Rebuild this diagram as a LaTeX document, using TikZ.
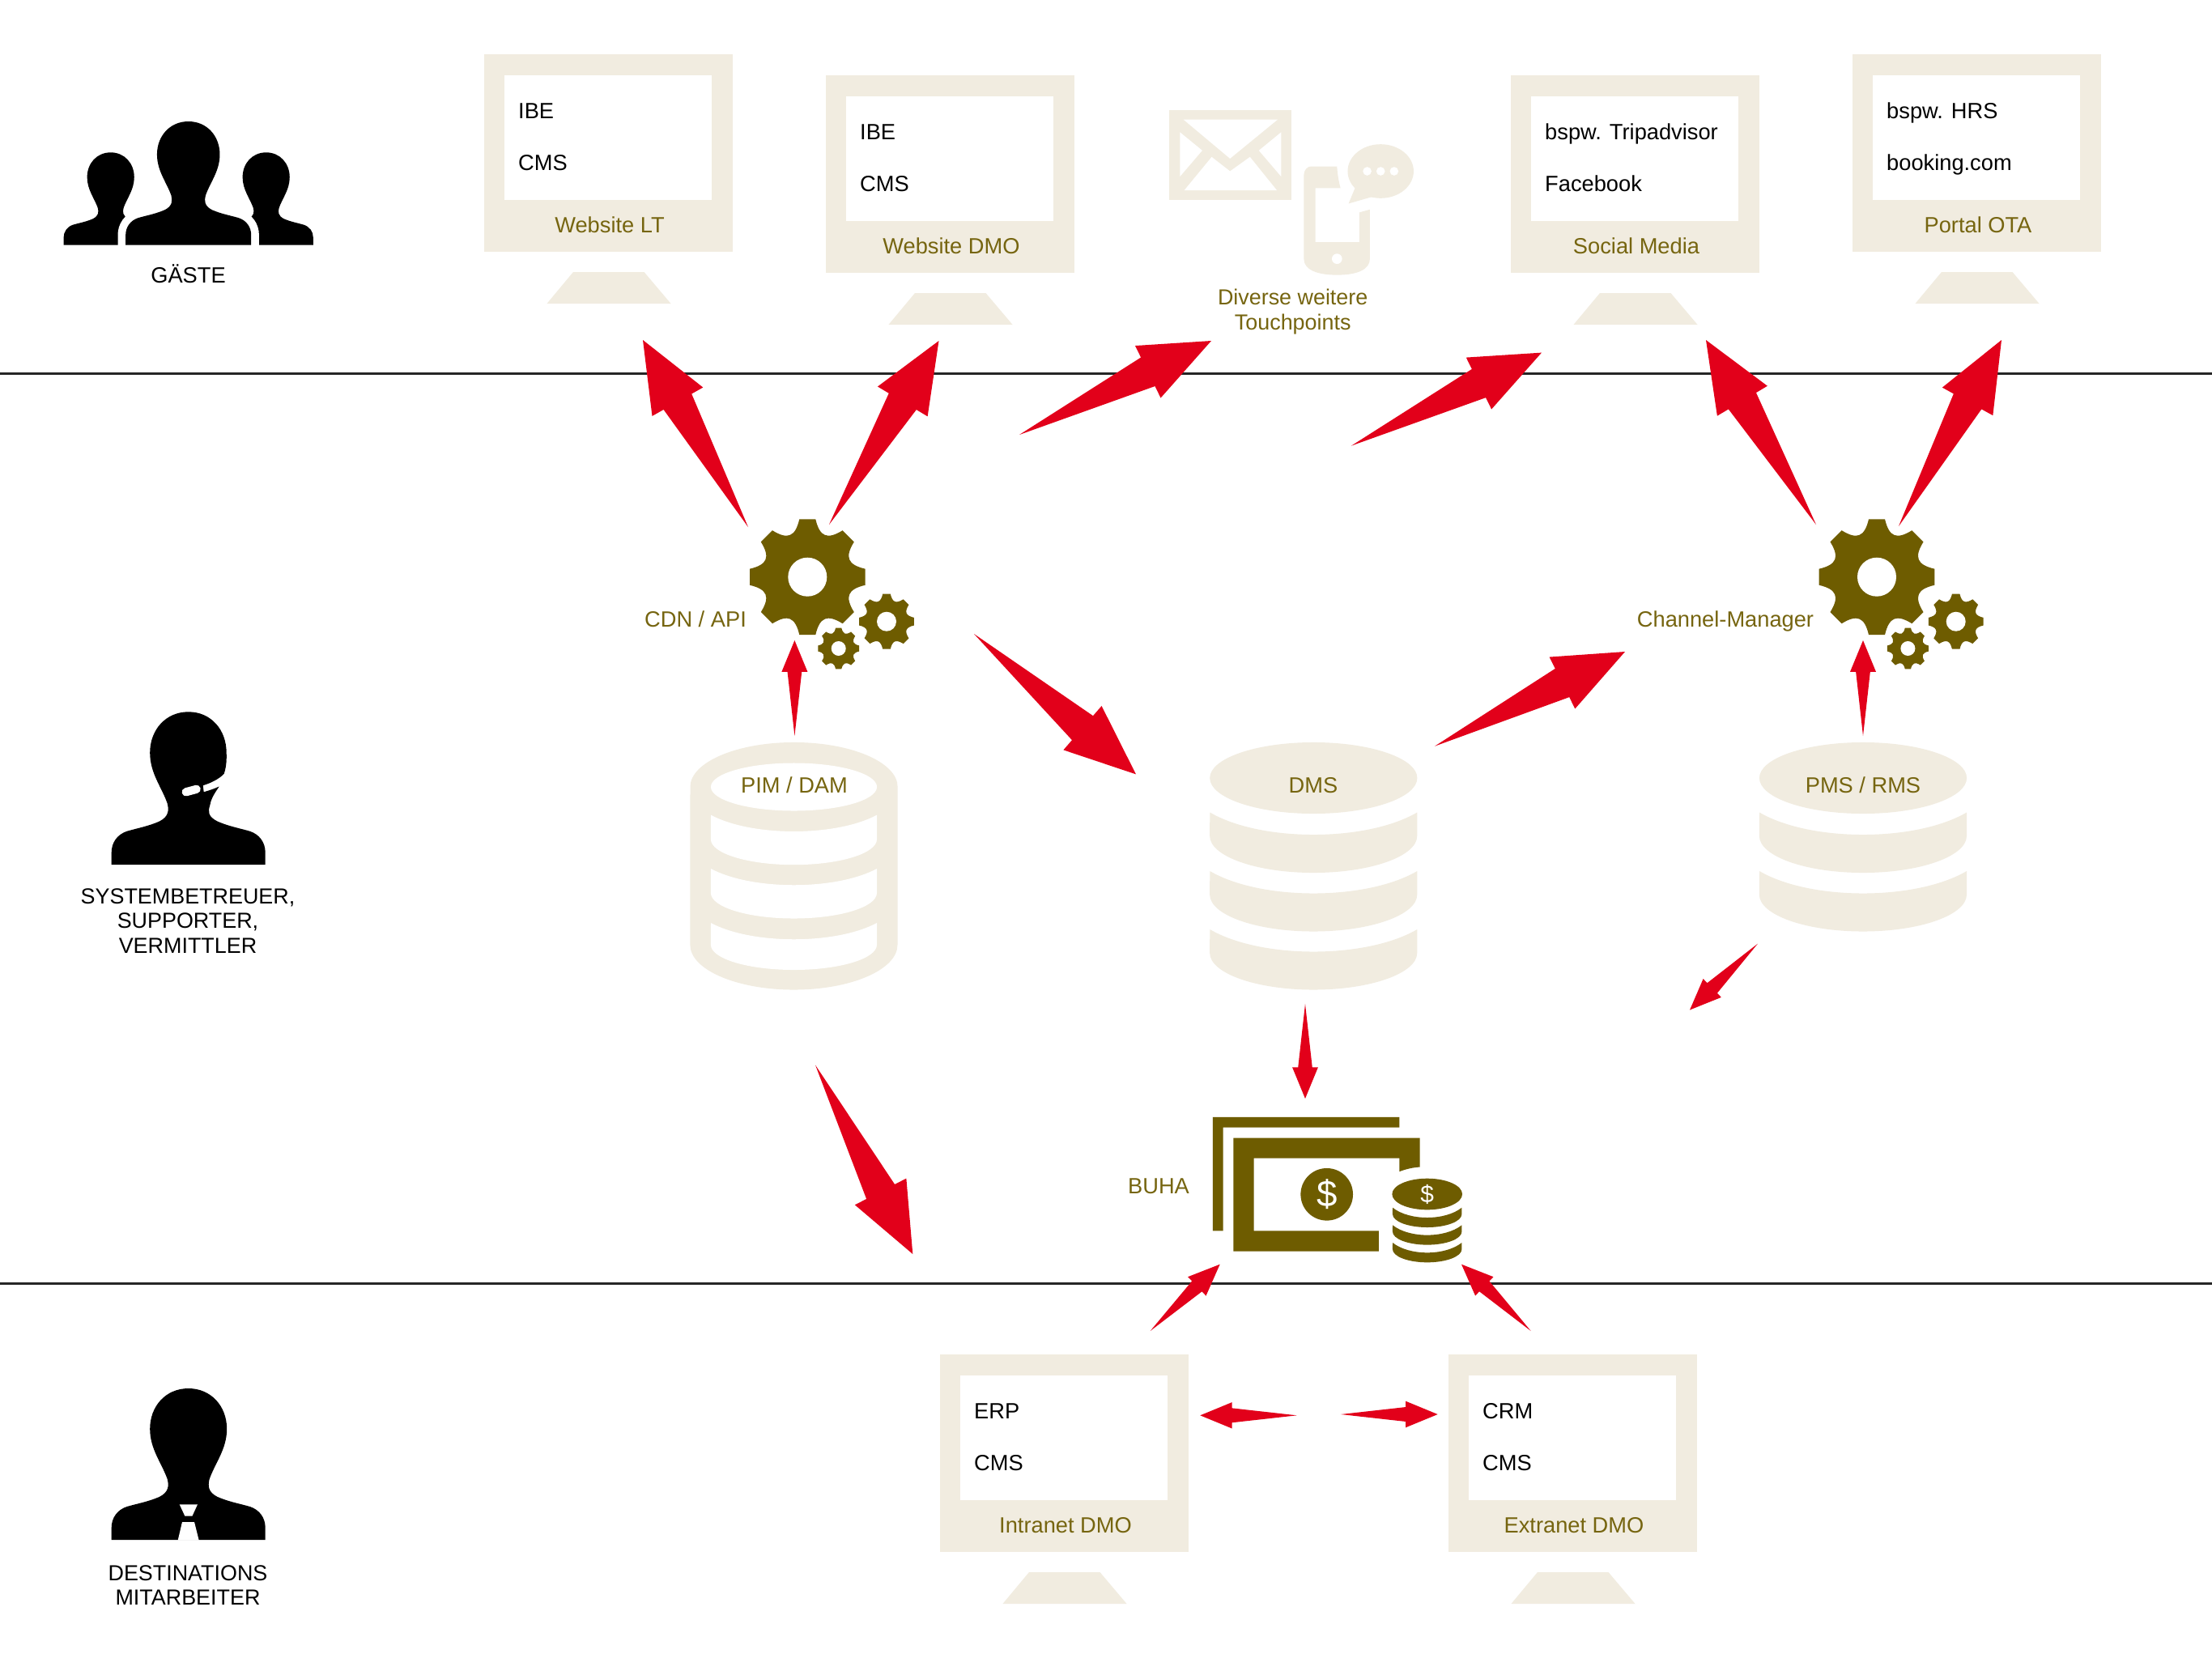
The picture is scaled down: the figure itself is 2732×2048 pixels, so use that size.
\documentclass[tikz,border=0pt]{standalone}
\usepackage{fontspec}
\setmainfont{Liberation Sans}
\usetikzlibrary{calc}
\definecolor{beigefill}{HTML}{F1ECE0}
\definecolor{olivefill}{HTML}{6E5C00}
\definecolor{olivetext}{HTML}{766510}
\definecolor{dartred}{HTML}{E2001A}
\tikzset{
  txt/.style={inner sep=0pt,anchor=base,font=\fontsize{7.75pt}{8.6pt}\selectfont,text=black},
  lefttxt/.style={txt,anchor=base west},
  oliv/.style={txt,text=olivetext},
  multi/.style={inner sep=0pt,align=center,font=\fontsize{7.65pt}{8.75pt}\selectfont},
  sep/.style={draw=black!85,line width=.85pt},
  dartfill/.style={fill=dartred},
  beig/.style={fill=beigefill},
  oli/.style={fill=olivefill}
}
% monitor: name, left, top, line1, line2, label
\newcommand{\monitor}[6]{%
  \begin{scope}[shift={(#2,-#3)}]
    \fill[beig] (0,0) rectangle (307,-244);
    \fill[white] (25,-26) rectangle (281,-180);
    \fill[beig] (110,-269) -- (197.5,-269) -- (230.5,-308) -- (77.5,-308) -- cycle;
    \node[lefttxt] (#1-a) at (41.5,-79) {#4};
    \node[lefttxt] (#1-b) at (41.5,-143) {#5};
    \node[oliv] (#1-label) at (155,-220) {#6};
  \end{scope}}
% tapered block arrow from tail to tip
\newcommand{\dart}[2]{%
  \coordinate (H) at ($(#1)!.67!(#2)$);
  \fill[dartfill] (#1) -- ($(H)!.227!90:(#2)$) -- ($(H)!.412!90:(#2)$) -- (#2)
     -- ($(H)!.412!-90:(#2)$) -- ($(H)!.227!-90:(#2)$) -- cycle;}
\newcommand{\gear}[4]{%
  \pgfmathsetmacro{\R}{#3}
  \fill[oli,shift={(#1,#2)}] (-8:\R)
    \foreach \a in {0,45,...,315}{ -- (\a-8:\R) -- (\a+8:\R)
      .. controls (\a+17:.72*\R) and (\a+28:.72*\R) .. (\a+37:\R)} -- cycle;
  \fill[white] (#1,#2) circle[radius=#4];}
\newcommand{\gears}[2]{%
  \gear{#1}{#2}{72}{24}
  \gear{#1+97.7}{#2-55}{34.3}{12}
  \gear{#1+38.4}{#2-88.3}{25.7}{9}}
\newcommand{\dbslice}[2]{%
  \fill[beig,shift={(#1,-#2)}] (-128,0) .. controls (-65,-36.7) and (65,-36.7) .. (128,0)
    -- (128,-29) arc[start angle=0,end angle=-180,x radius=1.28cm,y radius=.455cm] -- cycle;}
\newcommand{\dbtop}[1]{\fill[beig] (#1,-961) ellipse[x radius=1.28cm,y radius=.44cm];}
\newcommand{\coinslice}[1]{%
  \fill[oli,shift={(1762.7,-#1)}] (-42.7,0) .. controls (-22,-16.4) and (22,-16.4) .. (42.7,0)
    -- (42.7,-8) arc[start angle=0,end angle=-180,x radius=.427cm,y radius=.163cm] -- cycle;}
\newcommand{\hole}[3]{%
  \fill[white,shift={(980.5,-#1)}] (-102.5,0) .. controls (-52,-27) and (52,-27) .. (102.5,0)
    -- (102.5,-#2) arc[start angle=0,end angle=-180,x radius=1.025cm,y radius=#3cm] -- cycle;}
\newcommand{\personright}{(0,0) .. controls (28,0) and (47.5,-22) .. (47.5,-50)
   .. controls (47.5,-75) and (33,-92) .. (26,-112)
   .. controls (24,-120) and (24,-128) .. (36,-134)
   .. controls (50,-140) and (62,-142) .. (76,-146)
   .. controls (88,-150) and (95,-160) .. (95,-172) -- (95,-187)}
\newcommand{\personleft}{-- (-95,-187) -- (-95,-172)
   .. controls (-95,-160) and (-88,-150) .. (-76,-146)
   .. controls (-62,-142) and (-50,-140) .. (-36,-134)
   .. controls (-24,-128) and (-24,-120) .. (-26,-112)
   .. controls (-33,-92) and (-47.5,-75) .. (-47.5,-50)
   .. controls (-47.5,-22) and (-28,0) .. (0,0) -- cycle}
\begin{document}
\begin{tikzpicture}[x=.01cm,y=.01cm]
\useasboundingbox (0,0) rectangle (2732,-2048);
\fill[white] (0,0) rectangle (2732,-2048);

% separators
\coordinate (s1l) at (0,-461.5);  \coordinate (s1r) at (2732,-461.5);
\coordinate (s2l) at (0,-1585);   \coordinate (s2r) at (2732,-1585);
\draw[sep] (s1l) -- (s1r);
\draw[sep] (s2l) -- (s2r);

% people
\fill[black,shift={(136.7,-188.3)},scale=.612] \personright \personleft;
\fill[black,shift={(328.7,-188.3)},scale=.612] \personright \personleft;
\filldraw[black,draw=white,line width=5.5pt,shift={(232.7,-150)},scale=.816] \personright \personleft;
\fill[black,shift={(232.7,-150)},scale=.816] \personright \personleft;
\node[txt] (gaeste) at (232.5,-349.5) {GÄSTE};

% headset person
\fill[black,shift={(232.7,-879.3)},yscale=1.01] (0,0) .. controls (28,0) and (47,-22) .. (47,-50)
   .. controls (47.5,-62) and (46,-70) .. (44,-75.7)
   .. controls (38,-82) and (28,-87) .. (18,-90) -- (19,-98)
   .. controls (26,-96) and (32,-94) .. (38,-91.3)
   .. controls (32,-100) and (28,-106) .. (26.7,-114)
   .. controls (24,-122) and (24,-128) .. (36,-134)
   .. controls (50,-140) and (62,-142) .. (76,-146)
   .. controls (88,-150) and (95,-160) .. (95,-172) -- (95,-187) \personleft;
\draw[white,line width=2.9pt,line cap=round,shift={(232.7,-879.3)}] (-3,-99) -- (10,-95.5);
\node[multi] (support) at (232,-1137.5) {SYSTEMBETREUER,\\SUPPORTER,\\VERMITTLER};

% tie person
\fill[black,shift={(232.7,-1715)}] \personright \personleft;
\fill[white,shift={(232.7,-1715)}] (-11,-143.3) -- (11.3,-143.3) -- (4.7,-157.7) -- (-4.3,-157.7) -- cycle
   (-7.7,-165) -- (7.3,-165) -- (13,-187.6) -- (-13,-187.6) -- cycle;
\node[multi] (staff) at (232,-1958) {DESTINATIONS\\MITARBEITER};

% monitors
\monitor{lt}{598}{67}{IBE}{CMS}{Website LT}
\monitor{dmo}{1020}{93}{IBE}{CMS}{Website DMO}
\monitor{social}{1866}{93}{bspw. Tripadvisor}{Facebook}{Social Media}
\monitor{ota}{2288}{67}{bspw. HRS}{booking.com}{Portal OTA}
\monitor{intra}{1161}{1673}{ERP}{CMS}{Intranet DMO}
\monitor{extra}{1789}{1673}{CRM}{CMS}{Extranet DMO}

% touchpoints icon
\begin{scope}[shift={(1420,-110)},x=.003333cm,y=-.003333cm]
  \fill[beig] (73,78) rectangle (526,412);
  \fill[white] (125,113) -- (475,113) -- (298,258) -- cycle;
  \fill[white] (112,160) -- (195,228) -- (112,325) -- cycle;
  \fill[white] (488,160) -- (405,228) -- (488,325) -- cycle;
  \fill[white] (128,376) -- (230,252) -- (298,305) -- (372,252) -- (472,376) -- cycle;
  \fill[beig] (572,320) .. controls (572,300) and (585,287) .. (600,287) -- (695,287)
     .. controls (697,320) and (702,345) .. (708,368) -- (615,368) -- (615,568) -- (778,568)
     -- (778,458) -- (817,447) -- (817,630) .. controls (817,670) and (770,690) .. (695,690)
     .. controls (620,690) and (572,670) .. (572,630) -- cycle;
  \fill[white] (695,630) circle[radius=.0633cm];
  \fill[beig] (857,305) ellipse[x radius=.407cm,y radius=.333cm];
  \fill[beig] (765,360) -- (738,425) -- (825,400) -- cycle;
  \fill[white] (807,305) circle[radius=.053cm];
  \fill[white] (857,305) circle[radius=.053cm];
  \fill[white] (907,305) circle[radius=.053cm];
\end{scope}
\node[multi,text=olivetext] (touch) at (1596.7,-385) {Diverse weitere\\Touchpoints};

% gears
\gears{997.3}{-712.7}
\gears{2318}{-712.7}
\node[oliv] (cdn) at (859,-774) {CDN / API};
\node[oliv] (chan) at (2131,-774) {Channel-Manager};

% PIM hollow database
\fill[beig] (852.5,-972) arc[start angle=180,end angle=0,x radius=1.28cm,y radius=.55cm]
   -- (1108.5,-1167) arc[start angle=0,end angle=-180,x radius=1.28cm,y radius=.555cm] -- cycle;
\fill[white] (980.5,-972) ellipse[x radius=1.025cm,y radius=.295cm];
\hole{1006.7}{30}{.315}
\hole{1073}{30}{.315}
\hole{1140}{27}{.31}
\node[oliv] (pim) at (981,-979) {PIM / DAM};

% DMS
\dbtop{1622.3}
\dbslice{1622.3}{1003.5}
\dbslice{1622.3}{1076}
\dbslice{1622.3}{1148}
\node[oliv] (dms) at (1622,-979) {DMS};

% PMS
\dbtop{2301}
\dbslice{2301}{1003.5}
\dbslice{2301}{1076}
\node[oliv] (pms) at (2301,-979) {PMS / RMS};

% money icon
\begin{scope}[shift={(1340,-1340)},x=.003333cm,y=-.003333cm]
  \fill[oli] (474,120) -- (1167,120) -- (1167,158) -- (513,158) -- (513,542) -- (474,542) -- cycle;
  \fill[oli] (551,197) -- (1243,197) -- (1243,305) .. controls (1215,307) and (1190,313) .. (1167,322)
     -- (1167,272) -- (627,272) -- (627,542) -- (1090,542) -- (1090,618) -- (551,618) -- cycle;
\end{scope}
\fill[oli] (1638.7,-1475.3) circle[radius=.323cm];
\node[inner sep=0pt,text=white,font=\fontsize{13pt}{14pt}\selectfont] (dollar) at (1638.7,-1475.3) {\$};
\fill[oli] (1762.7,-1475) ellipse[x radius=.433cm,y radius=.193cm];
\node[inner sep=0pt,text=white,font=\fontsize{8.5pt}{9pt}\selectfont] (cent) at (1762.7,-1475) {\$};
\coinslice{1491.7}
\coinslice{1513.3}
\coinslice{1535}
\node[oliv] (buha) at (1431,-1474) {BUHA};

% arrows
\coordinate (a1t) at (924,-651);    \coordinate (a1h) at (794,-420);
\coordinate (a2t) at (1024,-648);   \coordinate (a2h) at (1159.5,-421);
\coordinate (a3t) at (1259,-537);   \coordinate (a3h) at (1496,-421);
\coordinate (a4t) at (1669,-550.6); \coordinate (a4h) at (1904,-435.6);
\coordinate (a5t) at (2243,-648);   \coordinate (a5h) at (2107,-420);
\coordinate (a6t) at (2345,-650);   \coordinate (a6h) at (2472,-420);
\coordinate (a7t) at (981.4,-909);  \coordinate (a7h) at (981.4,-791);
\coordinate (a8t) at (2301,-909);   \coordinate (a8h) at (2301,-791);
\coordinate (a9t) at (1203,-783);   \coordinate (a9h) at (1403,-956.4);
\coordinate (a10t) at (1772,-921.7);\coordinate (a10h) at (2007,-805);
\coordinate (a11t) at (2171,-1165.6);\coordinate (a11h) at (2087,-1247.5);
\coordinate (a12t) at (1612,-1240); \coordinate (a12h) at (1612,-1357);
\coordinate (a13t) at (1007,-1315.5);\coordinate (a13h) at (1127.3,-1549);
\coordinate (a14t) at (1420.7,-1644);\coordinate (a14h) at (1506.7,-1561.7);
\coordinate (a15t) at (1890.7,-1644);\coordinate (a15h) at (1805,-1561.7);
\coordinate (a16t) at (1601.7,-1748.3);\coordinate (a16h) at (1482.3,-1748.3);
\coordinate (a17t) at (1656,-1747); \coordinate (a17h) at (1775.7,-1747);
\foreach \i in {1,...,17}{\dart{a\i t}{a\i h}}
\end{tikzpicture}
\end{document}
